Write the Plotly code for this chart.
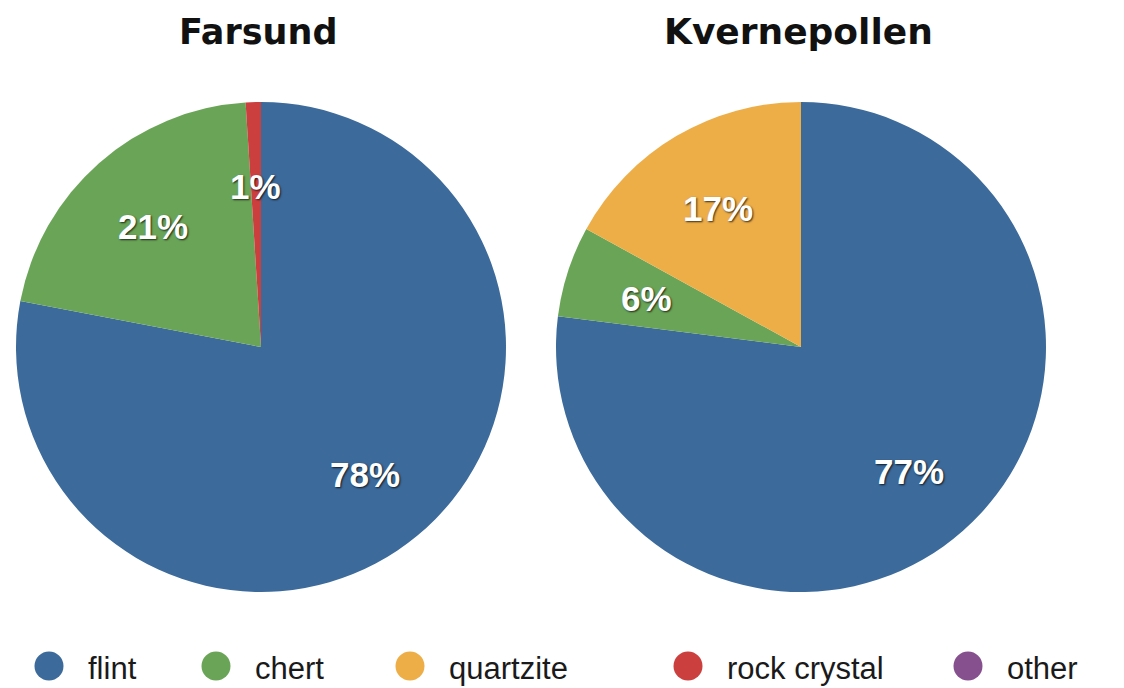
import math
import plotly.graph_objects as go

# --- data -------------------------------------------------------------
sites = ["Farsund", "Kvernepollen"]
materials = ["flint", "chert", "quartzite", "rock crystal", "other"]
farsund_pct = [78, 21, 0, 1, 0]
kvernepollen_pct = [77, 6, 17, 0, 0]

colors = ["#3b6a9b", "#6aa557", "#edae48", "#cc3f3f", "#86508f"]

# --- layout constants (pixels) -----------------------------------------
W, H = 1124, 688
PIE_BOXES = [(16, 506), (556, 1046)]   # horizontal extent of each pie
PIE_TOP, PIE_BOTTOM = 102, 592
LABEL_R = 0.665                         # label distance as fraction of radius
LEGEND_Y = 666
LEGEND_X = [49, 216, 410, 688, 968]     # circle centres
LEGEND_TEXT_DX = 37
TITLE_SIZES = [35, 36]

fig = go.Figure()
annotations = []

for site, values, (x0, x1), tsize in zip(sites, [farsund_pct, kvernepollen_pct],
                                         PIE_BOXES, TITLE_SIZES):
    fig.add_trace(go.Pie(
        labels=materials,
        values=values,
        sort=False,
        direction="clockwise",
        rotation=0,
        textinfo="none",
        hoverinfo="label+percent",
        showlegend=False,
        marker=dict(colors=colors, line=dict(width=0)),
        domain=dict(x=[x0 / W, x1 / W], y=[1 - PIE_BOTTOM / H, 1 - PIE_TOP / H]),
    ))

    cx = (x0 + x1) / 2
    cy = (PIE_TOP + PIE_BOTTOM) / 2
    r = (x1 - x0) / 2
    total = sum(values)

    # percentage labels at the middle angle of each slice
    cum = 0
    for v in values:
        if v <= 0:
            continue
        mid = (cum + v / 2) / total * 2 * math.pi
        cum += v
        px = cx + LABEL_R * r * math.sin(mid)
        py = cy - LABEL_R * r * math.cos(mid) + 2
        annotations.append(dict(
            x=px / W, y=1 - py / H, xref="paper", yref="paper",
            text=f"{v}%", showarrow=False,
            font=dict(family="Liberation Sans, Arial, sans-serif", size=35,
                      color="white", weight="bold",
                      shadow="1px 1px 2px rgba(0,0,0,0.75)"),
            xanchor="center", yanchor="middle",
        ))

    # site title
    annotations.append(dict(
        x=(cx - 3) / W, y=1 - 32 / H, xref="paper", yref="paper",
        text=f"<b>{site}</b>", showarrow=False,
        font=dict(family="DejaVu Sans, Verdana, sans-serif", size=tsize, color="#111"),
        xanchor="center", yanchor="middle",
    ))

# --- legend: coloured circles with names --------------------------------
fig.add_trace(go.Scatter(
    x=LEGEND_X, y=[LEGEND_Y] * len(materials),
    mode="markers",
    marker=dict(size=29, color=colors, line=dict(width=0)),
    hoverinfo="skip", showlegend=False, cliponaxis=False,
    xaxis="x", yaxis="y",
))
for name, lx in zip(materials, LEGEND_X):
    annotations.append(dict(
        x=(lx + LEGEND_TEXT_DX) / W, y=1 - (LEGEND_Y + 2) / H,
        xref="paper", yref="paper",
        text=name, showarrow=False,
        font=dict(family="Liberation Sans, Arial, sans-serif", size=31, color="#1a1a1a"),
        xanchor="left", yanchor="middle",
    ))

fig.update_layout(
    width=W, height=H,
    margin=dict(l=0, r=0, t=0, b=0),
    paper_bgcolor="white", plot_bgcolor="rgba(0,0,0,0)",
    showlegend=False,
    annotations=annotations,
    xaxis=dict(range=[0, W], visible=False, fixedrange=True, domain=[0, 1]),
    yaxis=dict(range=[H, 0], visible=False, fixedrange=True, domain=[0, 1]),
)

fig.write_html("out.html")
